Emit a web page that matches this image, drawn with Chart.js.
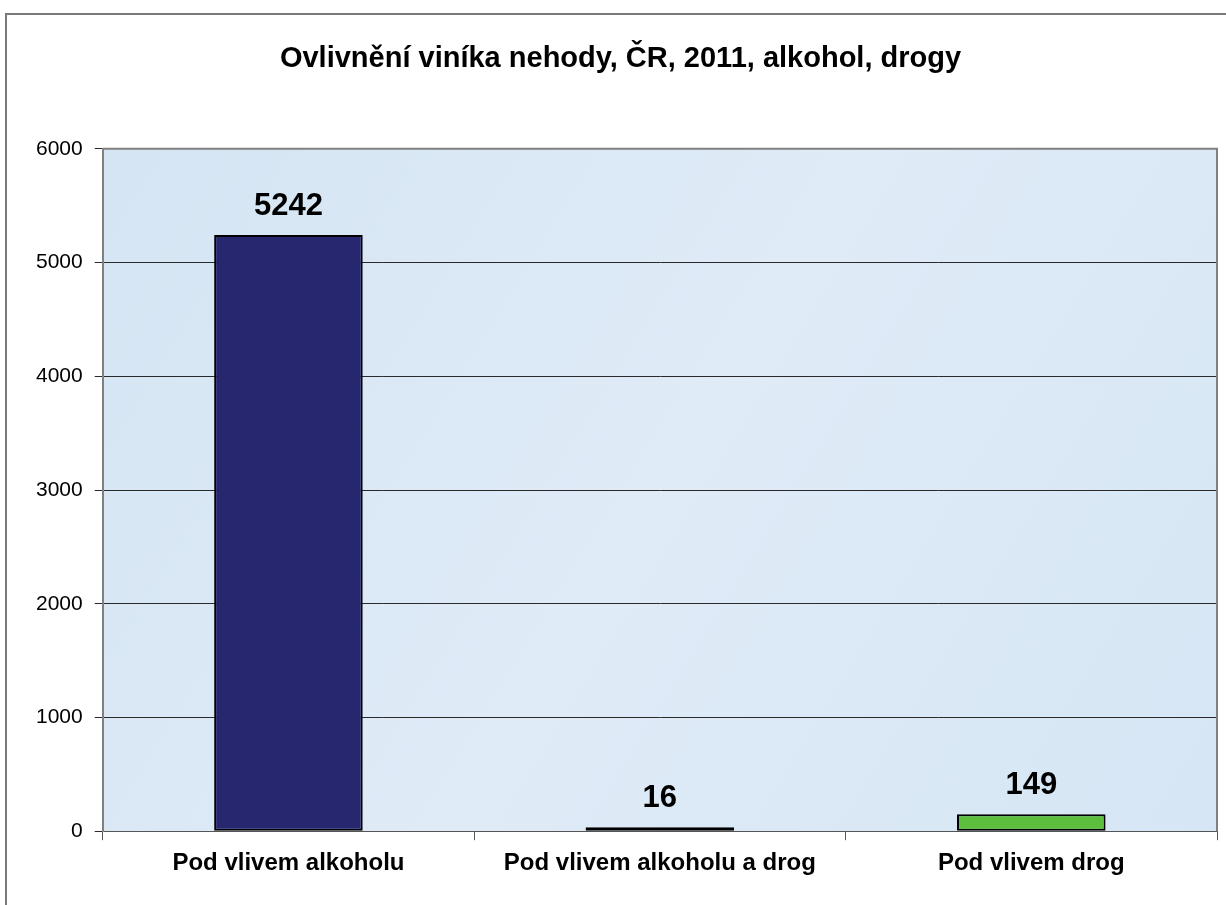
<!DOCTYPE html>
<html>
<head>
<meta charset="utf-8">
<script src="https://cdn.jsdelivr.net/npm/chart.js@4/dist/chart.umd.min.js"></script>
<style>
  html, body { margin: 0; padding: 0; background: #ffffff; }
  #wrap { width: 1226px; height: 905px; position: relative; }
</style>
</head>
<body>
<div id="wrap"><canvas id="c" width="1226" height="905"></canvas></div>
<script>
const chartTitle = "Ovlivnění viníka nehody, ČR, 2011, alkohol, drogy";
const categories = ["Pod vlivem alkoholu", "Pod vlivem alkoholu a drog", "Pod vlivem drog"];
const values = [5242, 16, 149];
const barColors = ["#272770", "#000000", "#5dbd3d"];
const yMin = 0, yMax = 6000, yStep = 1000;

const FONT = "'Liberation Sans', Arial, sans-serif";

const framePlugin = {
  id: 'frame',
  beforeDraw(chart) {
    const ctx = chart.ctx;
    ctx.save();
    ctx.fillStyle = '#ffffff';
    ctx.fillRect(0, 0, chart.width, chart.height);
    ctx.strokeStyle = '#7a7a7a';
    ctx.lineWidth = 2;
    ctx.strokeRect(6, 14, chart.width + 20, chart.height + 20);
    const a = chart.chartArea;
    const g = ctx.createLinearGradient(a.left, a.top, a.right, a.bottom);
    g.addColorStop(0, '#d5e5f3');
    g.addColorStop(0.5, '#dfebf7');
    g.addColorStop(1, '#d6e6f4');
    ctx.fillStyle = g;
    ctx.fillRect(a.left, a.top, a.right - a.left, a.bottom - a.top);
    ctx.restore();
  },
  afterDraw(chart) {
    const ctx = chart.ctx;
    const a = chart.chartArea;
    ctx.save();
    ctx.strokeStyle = '#808080';
    ctx.lineWidth = 2;
    ctx.beginPath();
    ctx.moveTo(a.left, a.top);
    ctx.lineTo(a.right, a.top);
    ctx.lineTo(a.right, a.bottom);
    ctx.stroke();
    ctx.restore();
  }
};

const labelPlugin = {
  id: 'valueLabels',
  afterDatasetsDraw(chart) {
    const ctx = chart.ctx;
    const meta = chart.getDatasetMeta(0);
    ctx.save();
    ctx.font = "bold 31px " + FONT;
    ctx.fillStyle = '#000000';
    ctx.textAlign = 'center';
    ctx.textBaseline = 'alphabetic';
    meta.data.forEach((bar, i) => {
      ctx.fillText(String(values[i]), bar.x, bar.y - 20);
    });
    ctx.restore();
  }
};

new Chart(document.getElementById('c'), {
  type: 'bar',
  data: {
    labels: categories,
    datasets: [{
      data: values,
      backgroundColor: barColors,
      borderColor: '#000000',
      borderWidth: 2,
      borderSkipped: false,
      minBarLength: 4,
      barPercentage: 0.4,
      categoryPercentage: 1.0
    }]
  },
  options: {
    responsive: false,
    animation: false,
    devicePixelRatio: 1,
    layout: { padding: { left: 24, right: 9, top: 0, bottom: 18 } },
    plugins: {
      legend: { display: false },
      tooltip: { enabled: false },
      title: {
        display: true,
        text: chartTitle,
        color: '#000000',
        font: { family: FONT, size: 29, weight: 'bold' },
        padding: { top: 42, bottom: 72 }
      }
    },
    scales: {
      x: {
        grid: {
          display: true,
          drawOnChartArea: false,
          drawTicks: true,
          tickLength: 9,
          color: '#555555',
          lineWidth: 1
        },
        border: { display: true, color: '#555555', width: 1 },
        ticks: {
          color: '#000000',
          font: { family: FONT, size: 24, weight: 'bold' },
          padding: 9
        }
      },
      y: {
        min: yMin,
        max: yMax,
        grid: {
          color: '#2a2a2a',
          lineWidth: 1,
          tickLength: 8,
          drawTicks: true
        },
        border: { display: true, color: '#808080', width: 2 },
        ticks: {
          stepSize: yStep,
          color: '#000000',
          font: { family: FONT, size: 21 },
          padding: 12,
          callback: (v) => String(v)
        }
      }
    }
  },
  plugins: [framePlugin, labelPlugin]
});
</script>
</body>
</html>
